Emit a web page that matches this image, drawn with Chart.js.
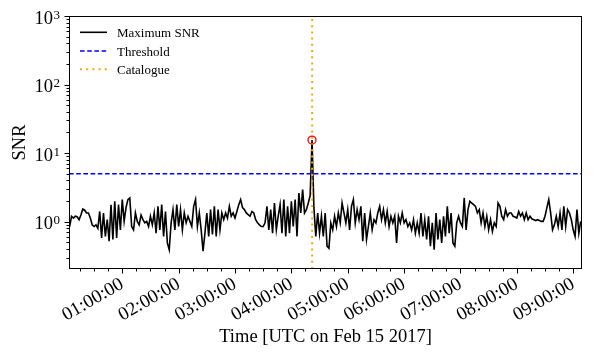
<!DOCTYPE html>
<html><head><meta charset="utf-8">
<script src="https://cdn.jsdelivr.net/npm/chart.js@4.4.1/dist/chart.umd.min.js"></script>
<style>html,body{margin:0;padding:0;background:#fff;}</style>
</head><body>
<canvas id="c" width="598" height="356" style="width:598px;height:356px;display:block"></canvas>
<script>
// ---- data ----
const startMinute = 4;        // first sample at 00:04 UTC
const stepMinutes = 2;        // sampling step of the series
const snrValues = [
0.85,1.2,1.13,1.2,1.18,1.07,1.25,1.53,1.47,1.34,
1.34,1.13,0.90,0.85,0.90,0.80,1.41,0.58,1.34,0.61,
1.07,0.52,1.77,0.55,1.98,0.58,1.77,0.76,2.1,1.01,
1.6,2.1,2.22,0.85,0.76,1.34,1.01,0.90,1.25,1.07,
0.96,1.01,0.85,1.2,0.90,1.34,0.68,1.67,0.76,1.77,
0.61,1.41,0.49,0.39,0.96,1.5,0.76,1.77,0.85,1.5,
0.76,1.34,0.96,1.2,1.01,0.85,1.67,2.1,0.85,1.34,
0.76,0.37,0.68,1.34,0.61,1.5,0.65,1.67,0.61,1.5,
0.76,1.34,1.07,1.34,1.13,1.67,1.2,1.34,1.13,1.41,
1.77,2.1,1.6,1.5,1.34,1.27,1.2,1.41,1.34,1.07,
0.96,0.90,0.85,0.85,0.96,1.67,0.76,1.5,0.68,1.87,
0.76,1.2,1.77,0.68,2.1,0.61,1.67,0.68,1.98,0.85,
2.1,0.61,2.62,1.34,2.93,1.34,1.5,1.87,2.4,15.5,
1.6,0.61,1.34,0.68,1.2,0.61,1.34,0.44,0.41,0.96,
0.76,1.2,0.85,1.34,0.96,1.87,1.34,0.96,1.5,0.76,
1.67,2.1,0.96,1.5,1.07,1.67,0.52,1.34,0.55,0.85,
1.34,0.76,1.07,0.96,1.34,1.67,1.07,1.5,0.96,1.41,
0.85,1.2,0.96,1.2,0.49,1.2,0.96,1.34,0.96,1.07,
0.85,0.96,0.76,1.07,0.68,0.96,0.68,1.34,0.61,1.07,
0.55,1.2,0.44,0.96,0.39,1.34,0.55,1.07,0.49,1.2,
0.61,1.67,0.68,1.34,0.49,0.44,0.96,1.2,0.96,0.85,
2.22,0.76,1.5,1.98,1.87,1.77,1.67,1.34,1.5,0.96,
1.34,0.85,1.2,0.76,1.07,0.72,0.96,0.85,1.87,1.67,
1.2,1.07,1.5,1.2,1.34,1.34,1.2,1.17,1.13,1.41,
1.2,1.34,1.07,1.34,1.07,1.2,1.1,1.07,1.04,1.07,
1.04,1.01,1.01,1.2,1.6,2.1,1.34,0.76,0.90,1.2,
0.85,1.34,0.76,1.67,0.85,1.5,1.34,1.07,0.76,0.61,
1.5,0.68,1.01
];
const thresholdValue = 5;
const catalogueMinute = 262.13;          // 04:22:08 UTC
const xRange = [3.3, 549.37];            // 00:03:18 .. 09:09:22
const yRange = [0.204, 1000];
const xTickMinutes = [60,120,180,240,300,360,420,480,540];
const xMinorStep = 15;
const yMajorTicks = [1,10,100,1000];
const seriesNames = ['Maximum SNR','Threshold','Catalogue'];
const xTitle = 'Time [UTC on Feb 15 2017]';
const yTitle = 'SNR';

// ---- build datasets ----
const snrPoints = snrValues.map((v,i)=>({x:startMinute + i*stepMinutes, y:v}));
let peakIdx = 0;
snrValues.forEach((v,i)=>{ if (v > snrValues[peakIdx]) peakIdx = i; });
const peakPoint = [snrPoints[peakIdx]];

const FONT = 'Liberation Serif, Times New Roman, serif';
function fmtTime(m){
  const s = Math.round(m*60);
  const hh = Math.floor(s/3600), mm = Math.floor((s%3600)/60), ss = s%60;
  const p = n => String(n).padStart(2,'0');
  return p(hh)+':'+p(mm)+':'+p(ss);
}

const decorPlugin = {
  id:'decor',
  afterDraw(chart){
    const ctx = chart.ctx, a = chart.chartArea;
    const xs = chart.scales.x, ys = chart.scales.y;
    ctx.save();
    ctx.strokeStyle = '#000'; ctx.lineWidth = 1;
    // frame
    ctx.strokeRect(Math.round(a.left)+0.5, Math.round(a.top)+0.5, Math.round(a.right-a.left)-1, Math.round(a.bottom-a.top)-1);
    const bot = Math.round(a.bottom)-0.5, lft = Math.round(a.left)+0.5;
    // x ticks
    ctx.beginPath();
    for (let m = xMinorStep; m <= xRange[1]; m += xMinorStep){
      if (m < xRange[0]) continue;
      const px = Math.round(xs.getPixelForValue(m))+0.5;
      const len = (m % 60 === 0) ? 5 : 3;
      ctx.moveTo(px, bot); ctx.lineTo(px, bot+len);
    }
    // y ticks
    for (let e = -1; e <= 3; e++){
      for (let k = 1; k <= 9; k++){
        const v = k*Math.pow(10,e);
        if (v < yRange[0] || v > yRange[1]*1.0001) continue;
        if (e === 3 && k > 1) continue;
        const py = Math.round(ys.getPixelForValue(v))+0.5;
        const len = k === 1 ? 5 : 3;
        ctx.moveTo(lft, py); ctx.lineTo(lft-len, py);
      }
    }
    ctx.stroke();
    // y labels 10^n
    ctx.fillStyle = '#000';
    ctx.textAlign = 'right'; ctx.textBaseline = 'alphabetic';
    yMajorTicks.forEach(v=>{
      const py = ys.getPixelForValue(v);
      const ex = String(Math.round(Math.log10(v)));
      ctx.font = '13px ' + FONT;
      ctx.fillText(ex, a.left-9, py+2.5);
      const ew = ctx.measureText(ex).width;
      ctx.font = '18.5px ' + FONT;
      ctx.fillText('10', a.left-9-ew-0.5, py+7.5);
    });
    // legend
    const ds = chart.data.datasets;
    const lx0 = a.left+11, lx1 = a.left+38, tx = a.left+48;
    const rows = [16.3, 35, 53.3];
    ctx.textAlign = 'left';
    ctx.font = '13px ' + FONT;
    for (let i = 0; i < 3; i++){
      const d = ds[i];
      const y = a.top + rows[i];
      ctx.save();
      ctx.strokeStyle = d.borderColor; ctx.lineWidth = d.borderWidth;
      ctx.setLineDash(d.borderDash || []);
      ctx.beginPath(); ctx.moveTo(lx0, y); ctx.lineTo(lx1, y); ctx.stroke();
      ctx.restore();
      ctx.fillStyle = '#000';
      ctx.fillText(seriesNames[i], tx, y+5);
    }
    ctx.restore();
  }
};

new Chart(document.getElementById('c'), {
  type:'line',
  data:{ datasets:[
    {label:seriesNames[0], data:snrPoints, borderColor:'#000', borderWidth:1.6, pointRadius:0, tension:0, fill:false, order:4},
    {label:seriesNames[1], data:[{x:xRange[0],y:thresholdValue},{x:xRange[1],y:thresholdValue}], borderColor:'#0000ff', borderWidth:1.4, borderDash:[4.6,2.6], pointRadius:0, fill:false, order:3},
    {label:seriesNames[2], data:[{x:catalogueMinute,y:yRange[0]},{x:catalogueMinute,y:yRange[1]}], borderColor:'#ffa500', borderWidth:2, borderDash:[2,4.2], pointRadius:0, fill:false, order:2},
    {label:'peak', type:'scatter', data:peakPoint, showLine:false, pointRadius:4, pointStyle:'circle', borderColor:'#ff0000', backgroundColor:'rgba(0,0,0,0)', borderWidth:1.3, order:1}
  ]},
  options:{
    responsive:false, animation:false, devicePixelRatio:1,
    layout:{padding:{left:0,right:16,top:16,bottom:0}},
    plugins:{legend:{display:false}, tooltip:{enabled:false}},
    scales:{
      x:{type:'linear', min:xRange[0], max:xRange[1],
        afterBuildTicks:s=>{ s.ticks = xTickMinutes.map(v=>({value:v})); },
        ticks:{callback:v=>fmtTime(v), minRotation:30, maxRotation:30, autoSkip:false, padding:4, color:'#000', font:{family:FONT, size:19}},
        grid:{display:false, drawTicks:false}, border:{display:false},
        title:{display:true, text:xTitle, color:'#000', font:{family:FONT, size:18.5}, padding:{top:0,bottom:8}},
        afterFit:s=>{ s.height = 87; }
      },
      y:{type:'logarithmic', min:yRange[0], max:yRange[1],
        afterBuildTicks:s=>{ s.ticks = yMajorTicks.map(v=>({value:v})); },
        ticks:{display:false},
        grid:{display:false, drawTicks:false}, border:{display:false},
        title:{display:true, text:yTitle, color:'#000', font:{family:FONT, size:18.5}, padding:{top:9,bottom:0}},
        afterFit:s=>{ s.width = 69; }
      }
    }
  },
  plugins:[decorPlugin]
});
</script>
</body></html>
